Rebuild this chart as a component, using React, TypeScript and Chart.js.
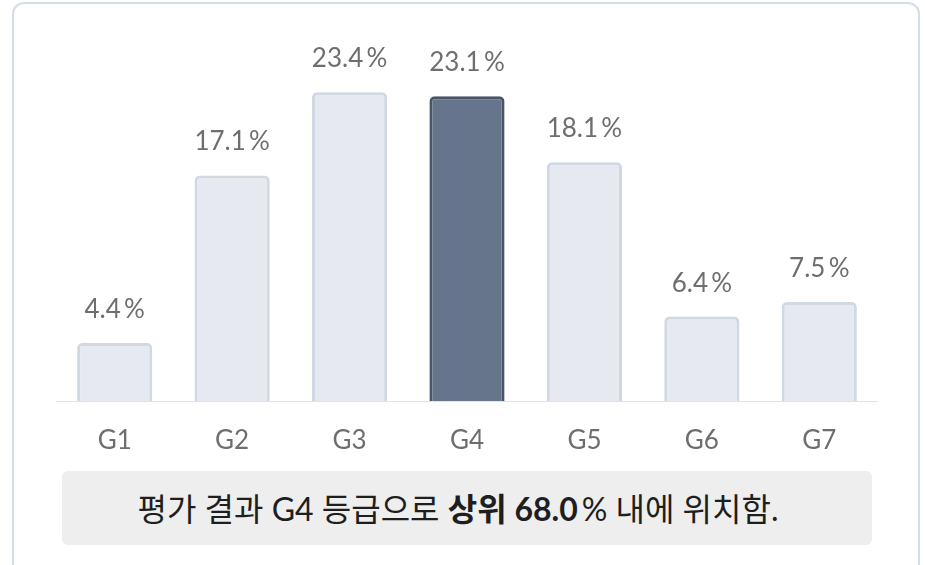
import React, { useEffect, useRef } from "react";
import { Chart, registerables } from "chart.js";

Chart.register(...registerables);

const categories = ["G1", "G2", "G3", "G4", "G5", "G6", "G7"];
const shares = [4.4, 17.1, 23.4, 23.1, 18.1, 6.4, 7.5];
const highlightIndex = 3;
const summaryPrefix = "평가 결과 G4 등급으로 ";
const summaryBold = "상위 68.0";
const summarySuffix = "\u2009% 내에 위치함.";

const LIGHT_FILL = "#e6eaf0";
const LIGHT_BORDER = "#cfd8e3";
const DARK_FILL = "#66748c";
const DARK_BORDER = "#4a5467";
const LABEL_FONT = "Lato, 'Noto Sans CJK KR', sans-serif";

const valueLabels = {
  id: "valueLabels",
  afterDatasetsDraw(chart: any) {
    const ctx = chart.ctx;
    const meta = chart.getDatasetMeta(0);
    ctx.save();
    ctx.font = `400 26px ${LABEL_FONT}`;
    ctx.fillStyle = "#6e6e6e";
    ctx.textAlign = "center";
    ctx.textBaseline = "alphabetic";
    meta.data.forEach((bar: any, i: number) => {
      const v = chart.data.datasets[0].data[i];
      ctx.fillText(`${v.toFixed(1)}\u2009%`, bar.x, bar.y - 25);
    });
    ctx.restore();
  },
};

export default function App() {
  const ref = useRef<HTMLCanvasElement | null>(null);

  useEffect(() => {
    if (!ref.current) return;
    const chart = new Chart(ref.current, {
      type: "bar",
      data: {
        labels: categories,
        datasets: [
          {
            data: shares,
            backgroundColor: shares.map((_, i) => (i === highlightIndex ? DARK_FILL : LIGHT_FILL)),
            borderColor: shares.map((_, i) => (i === highlightIndex ? DARK_BORDER : LIGHT_BORDER)),
            borderWidth: 3,
            borderRadius: 5,
            borderSkipped: "bottom",
            barPercentage: 0.64,
            categoryPercentage: 1,
          },
        ],
      },
      options: {
        responsive: false,
        animation: false,
        layout: { padding: 0 },
        plugins: { legend: { display: false }, tooltip: { enabled: false } },
        scales: {
          x: {
            grid: { display: false, drawTicks: false },
            border: { display: true, color: "#e2e2e2", width: 1 },
            ticks: {
              color: "#6e6e6e",
              font: { family: LABEL_FONT, size: 26, weight: "400" as any },
              padding: 24,
            },
            afterFit: (scale: any) => {
              scale.height = 69;
            },
          },
          y: { display: false, min: 0, max: 30.4 },
        },
      },
      plugins: [valueLabels],
    });
    return () => chart.destroy();
  }, []);

  return (
    <div style={{ position: "fixed", left: 0, top: 0, width: 925, height: 565, background: "#fff", overflow: "hidden" }}>
      <div
        style={{
          position: "absolute",
          left: 12,
          top: 2,
          width: 904,
          height: 580,
          border: "2px solid #d5dde8",
          borderRadius: 12,
          background: "#fff",
        }}
      />
      <canvas ref={ref} width={822} height={470} style={{ position: "absolute", left: 56, top: 0, width: 822, height: 470 }} />
      <div
        style={{
          position: "absolute",
          left: 62,
          top: 471,
          width: 810,
          height: 74,
          background: "#eeeeee",
          borderRadius: 6,
          display: "flex",
          alignItems: "center",
          justifyContent: "center",
          fontFamily: "Lato, 'Noto Sans CJK KR', sans-serif",
          fontSize: 32,
          color: "#1e1e1e",
          whiteSpace: "pre",
          paddingBottom: 2,
          paddingRight: 18,
          boxSizing: "border-box",
        }}
      >
        <span>{summaryPrefix}</span>
        <span style={{ fontWeight: 700 }}>{summaryBold}</span>
        <span>{summarySuffix}</span>
      </div>
    </div>
  );
}
